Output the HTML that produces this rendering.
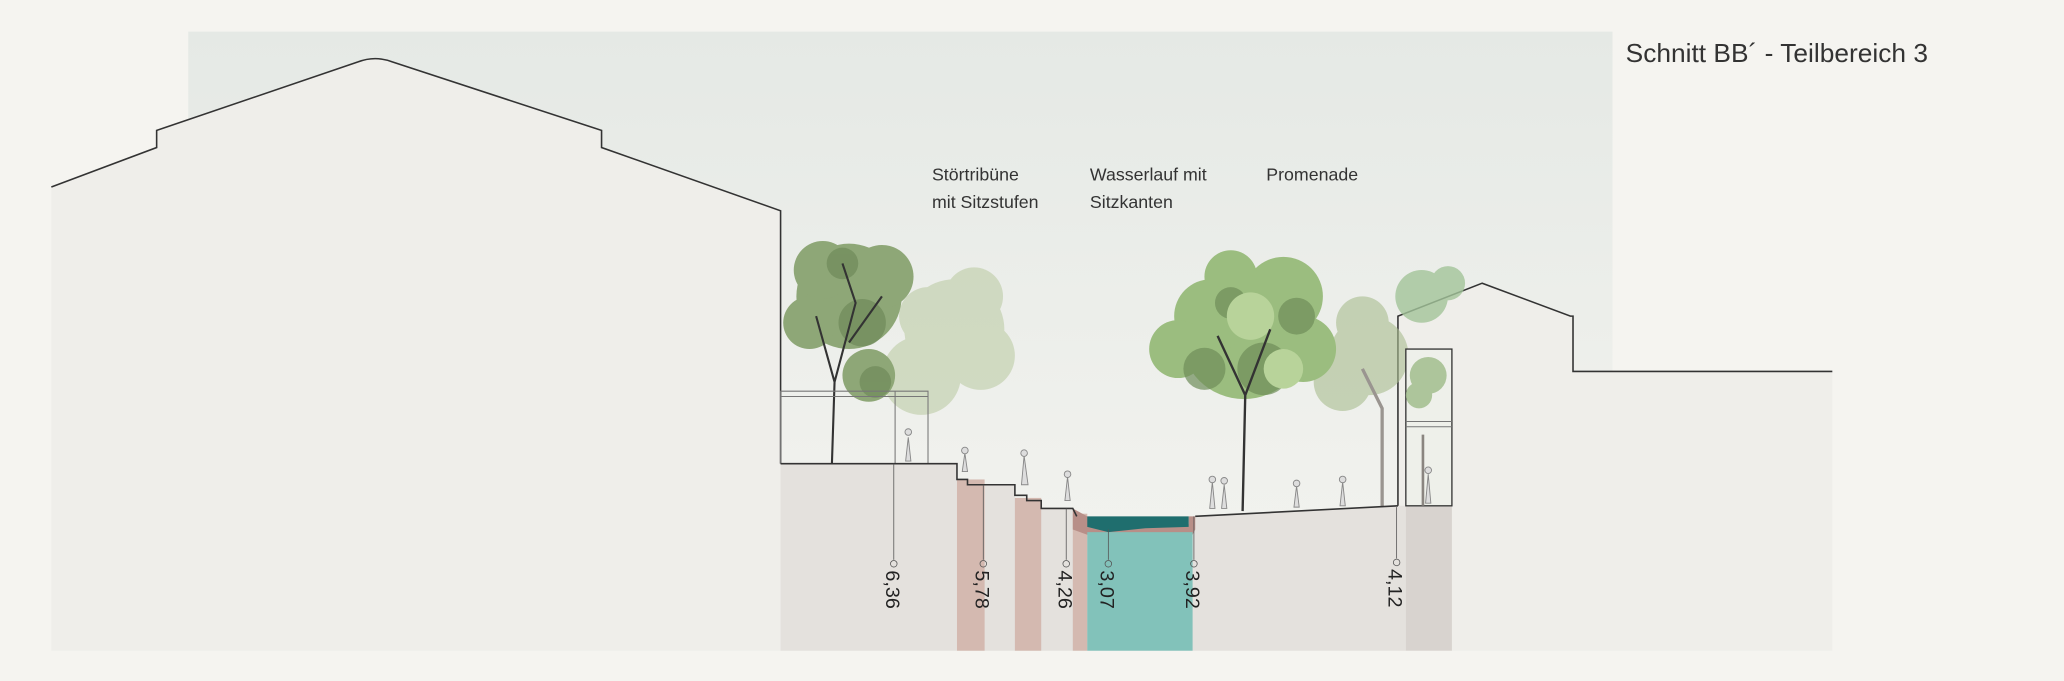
<!DOCTYPE html>
<html><head><meta charset="utf-8"><style>
html,body{margin:0;padding:0;background:#f5f4f0;}
svg{display:block}
text{font-family:"Liberation Sans",sans-serif;}
</style></head><body>
<svg width="2064" height="681" viewBox="0 0 1568 517" preserveAspectRatio="none" xmlns="http://www.w3.org/2000/svg">
<defs>
<linearGradient id="sky" x1="0" y1="0" x2="0" y2="1">
<stop offset="0" stop-color="#e5e9e5"/><stop offset="0.7" stop-color="#f0f1ed"/><stop offset="1" stop-color="#f3f3ef"/>
</linearGradient>
</defs>
<rect width="1568" height="517" fill="#f5f4f0"/>
<rect x="143" y="24" width="1082" height="470" fill="url(#sky)"/>
<path d="M39,142 L119,112 L119,99 L272,47 Q285,42 298,47 L457,99 L457,112 L593,160 L593,494 L39,494 Z" fill="#efeeea"/>
<path d="M39,142 L119,112 L119,99 L272,47 Q285,42 298,47 L457,99 L457,112 L593,160 L593,352" fill="none" stroke="#333" stroke-width="1.2"/>
<path d="M1062,494 L1062,240 L1126,215 L1195,240 L1195,282 L1392,282 L1392,494 Z" fill="#efeeea"/>
<path d="M1062,386 L1062,240 L1126,215 L1193,240 L1195,240 L1195,282 L1392,282" fill="none" stroke="#333" stroke-width="1.2"/>
<g opacity="0.55" fill="#b9c9a0">
<circle cx="725" cy="250" r="38"/><circle cx="740" cy="225" r="22"/><circle cx="700" cy="285" r="30"/><circle cx="745" cy="270" r="26"/><circle cx="705" cy="240" r="22"/>
</g>
<g fill="#8ea777">
<circle cx="645" cy="225" r="40"/><circle cx="625" cy="205" r="22"/><circle cx="670" cy="210" r="24"/><circle cx="615" cy="245" r="20"/><circle cx="660" cy="285" r="20"/>
</g>
<g fill="#6f8a5a" opacity="0.7"><circle cx="655" cy="245" r="18"/><circle cx="640" cy="200" r="12"/><circle cx="665" cy="290" r="12"/></g>
<path d="M632,352 L634,290 L620,240 M634,290 L650,230 L640,200 M645,260 L670,225" stroke="#333" stroke-width="1.6" fill="none"/>
<g fill="#a9bd8f" opacity="0.6"><circle cx="1040" cy="270" r="30"/><circle cx="1020" cy="290" r="22"/><circle cx="1035" cy="245" r="20"/></g>
<g fill="#a3c49a" opacity="0.8"><circle cx="1080" cy="225" r="20"/><circle cx="1100" cy="215" r="13"/></g>
<path d="M1050,385 L1050,310 L1035,280" stroke="#9a9590" stroke-width="2.5" fill="none"/>
<g fill="#9bbd7f"><circle cx="945" cy="255" r="48"/><circle cx="920" cy="240" r="28"/><circle cx="975" cy="225" r="30"/><circle cx="935" cy="210" r="20"/><circle cx="895" cy="265" r="22"/><circle cx="990" cy="265" r="25"/></g>
<g fill="#6f8e5a" opacity="0.7"><circle cx="960" cy="280" r="20"/><circle cx="915" cy="280" r="16"/><circle cx="985" cy="240" r="14"/><circle cx="935" cy="230" r="12"/></g>
<g fill="#b8d39a"><circle cx="950" cy="240" r="18"/><circle cx="975" cy="280" r="15"/></g>
<path d="M944,388 L946,300 L925,255 M946,300 L965,250" stroke="#333" stroke-width="1.8" fill="none"/>
<path d="M593,352 L593,297 L705,297 L705,352 M680,297 L680,352 M593,301 L705,301" stroke="#777" stroke-width="0.8" fill="none"/>
<path d="M593,352 L727,352 L727,364 L748,368 L771,368 L771,378 L791,380 L791,386 L815,386 L818,392 L908,392 L1062,384 L1068,384 L1068,494 L593,494 Z" fill="#e4e1dd"/>
<rect x="1068" y="384" width="35" height="110" fill="#d8d3cf"/>
<rect x="727" y="364" width="21" height="130" fill="#d4b9b0"/>
<rect x="771" y="378" width="20" height="116" fill="#d4b9b0"/>
<rect x="815" y="390" width="11" height="104" fill="#d4b9b0"/>
<path d="M815,386 L815,402 L826,406 L906,406 L908,402 L908,392 L903,392 L903,398 L828,398 L826,392 Z" fill="#b88f88"/>
<rect x="826" y="404" width="80" height="90" fill="#82c2ba"/>
<path d="M826,392 L903,392 L903,400 L870,401 L842,404 L826,400 Z" fill="#1f6e6e"/>
<path d="M593,352 L727,352 L727,364 L735,364 L735,368 L748,368 L771,368 L771,376 L780,376 L780,380 L791,380 L791,386 L815,386 L818,392 M908,392 L1062,384" stroke="#333" stroke-width="1.2" fill="none"/>
<rect x="1068" y="265" width="35" height="119" fill="#eef0ea" stroke="#333" stroke-width="1"/>
<g fill="#9dbb88" opacity="0.8"><circle cx="1085" cy="285" r="14"/><circle cx="1078" cy="300" r="10"/></g>
<path d="M1068,320 L1103,320 M1068,324 L1103,324" stroke="#777" stroke-width="0.8"/>
<path d="M1081,384 L1081,330" stroke="#8a8580" stroke-width="2"/>
<g fill="#ddd" stroke="#888" stroke-width="0.7">
<path d="M688,350 l2,-18 l2,18 Z M731,358 l2,-14 l2,14 Z M776,368 l2,-22 l3,22 Z M809,380 l2,-18 l2,18 Z M919,386 l2,-20 l2,20 Z M928,386 l2,-18 l2,18 Z M983,385 l2,-16 l2,16 Z M1018,384 l2,-18 l2,18 Z M1083,382 l2,-22 l2,22 Z"/>
<circle cx="690" cy="328" r="2.5"/><circle cx="733" cy="342" r="2.5"/><circle cx="778" cy="344" r="2.5"/><circle cx="811" cy="360" r="2.5"/><circle cx="921" cy="364" r="2.5"/><circle cx="930" cy="365" r="2.5"/><circle cx="985" cy="367" r="2.5"/><circle cx="1020" cy="364" r="2.5"/><circle cx="1085" cy="357" r="2.5"/>
</g>
<g stroke="#555" stroke-width="0.6" fill="none">
<path d="M679,352 V425"/><circle cx="679" cy="428" r="2.5"/>
<path d="M747,368 V425"/><circle cx="747" cy="428" r="2.5"/>
<path d="M810,386 V425"/><circle cx="810" cy="428" r="2.5"/>
<path d="M842,402 V425"/><circle cx="842" cy="428" r="2.5"/>
<path d="M907,392 V425"/><circle cx="907" cy="428" r="2.5"/>
<path d="M1061,385 V424"/><circle cx="1061" cy="427" r="2.5"/>
</g>
<g font-size="15" fill="#222">
<text transform="translate(673,433) rotate(90)">6,36</text>
<text transform="translate(741,433) rotate(90)">5,78</text>
<text transform="translate(804,433) rotate(90)">4,26</text>
<text transform="translate(836,433) rotate(90)">3,07</text>
<text transform="translate(901,433) rotate(90)">3,92</text>
<text transform="translate(1055,432) rotate(90)">4,12</text>
</g>
<g font-size="13.5" fill="#333">
<text x="708" y="137">Störtribüne</text><text x="708" y="158">mit Sitzstufen</text>
<text x="828" y="137">Wasserlauf mit</text><text x="828" y="158">Sitzkanten</text>
<text x="962" y="137">Promenade</text>
</g>
<text x="1235" y="47" font-size="20" fill="#333">Schnitt BB´ - Teilbereich 3</text>
</svg>
</body></html>
